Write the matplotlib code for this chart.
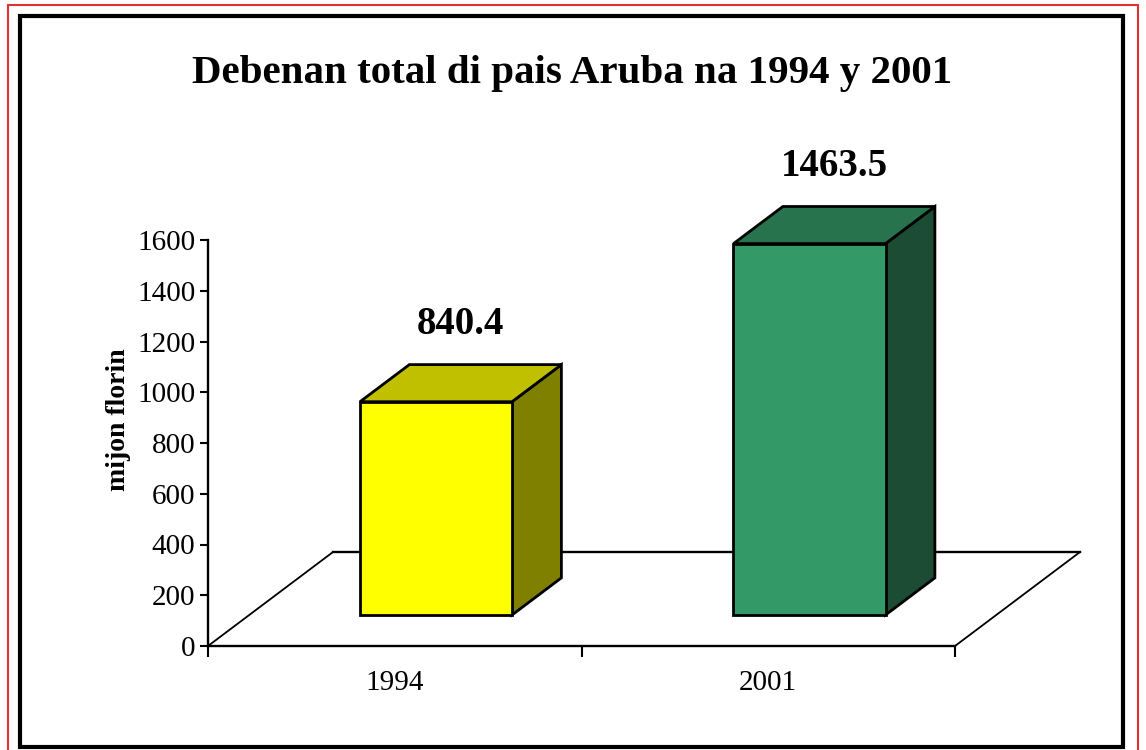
import numpy as np
import matplotlib
matplotlib.use('Agg')
import matplotlib.pyplot as plt
from matplotlib.patches import Polygon, Rectangle

plt.rcParams['font.family'] = ['Liberation Serif', 'DejaVu Serif']

# data
categories = ['1994', '2001']
values = [840.4, 1463.5]
value_labels = ['840.4', '1463.5']
yticks = [0, 200, 400, 600, 800, 1000, 1200, 1400, 1600]
title = 'Debenan total di pais Aruba na 1994 y 2001'
ylabel = 'mijon florin'

front_colors = ['#FFFF00', '#339966']
top_colors = ['#C0C000', '#26734D']
side_colors = ['#808000', '#1C4C34']

# fake 3d projection (in axis units)
DX, DY = 0.3347, 370.4
f0, f1 = 0.33, 0.725
bw = 0.407

fig = plt.figure(figsize=(11.46, 7.5), dpi=100)
ax = fig.add_axes([208/1146, 104/750, 747/1146, 406/750])
ax.set_xlim(0, 2)
ax.set_ylim(0, 1600)
ax.patch.set_visible(False)
for s in ['top', 'right']:
    ax.spines[s].set_visible(False)
for s in ['left', 'bottom']:
    ax.spines[s].set_linewidth(1.7)

ax.set_yticks(yticks)
ax.set_yticklabels([str(t) for t in yticks], fontsize=21)
ax.tick_params(axis='y', direction='out', length=6, width=1.5, pad=3)
ax.set_xticks([0, 1, 2])
ax.set_xticklabels([])
ax.tick_params(axis='x', which='major', direction='out', length=8, width=1.5)
ax.set_xticks([0.5, 1.5], minor=True)
ax.set_xticklabels(categories, minor=True, fontsize=21)
ax.tick_params(axis='x', which='minor', length=0, pad=17)

ax.set_ylabel(ylabel, fontsize=20, fontweight='bold')
ax.yaxis.set_label_coords(-0.103, 0.557)

# floor outline
ax.plot([DX, 2 + DX], [DY, DY], color='black', lw=1.7, clip_on=False, zorder=1)
ax.plot([0, DX], [0, DY], color='black', lw=1.3, clip_on=False, zorder=1)
ax.plot([2, 2 + DX], [0, DY], color='black', lw=1.3, clip_on=False, zorder=1)

d = f1 - f0
for i, v in enumerate(values):
    x0 = i + 0.5 - bw/2 + f0*DX
    x1 = x0 + bw
    y0 = f0*DY
    y1 = y0 + v
    kw = dict(edgecolor='black', lw=2, clip_on=False, zorder=3, joinstyle='miter')
    ax.add_patch(Polygon([(x1, y0), (x1 + d*DX, y0 + d*DY), (x1 + d*DX, y1 + d*DY), (x1, y1)],
                         facecolor=side_colors[i], **kw))
    ax.add_patch(Polygon([(x0, y1), (x1, y1), (x1 + d*DX, y1 + d*DY), (x0 + d*DX, y1 + d*DY)],
                         facecolor=top_colors[i], **kw))
    ax.add_patch(Polygon([(x0, y0), (x1, y0), (x1, y1), (x0, y1)],
                         facecolor=front_colors[i], **kw))
    ax.annotate(value_labels[i], xy=(x0 + bw/2 + d*DX/2, y1 + d*DY), xytext=(0, 29),
                textcoords='offset points', ha='center', va='center',
                fontsize=28, fontweight='bold', annotation_clip=False)

fig.text(572/1146, 1 - 74/750, title, ha='center', va='center', fontsize=29.5, fontweight='bold')

# frames
fig.patches.append(Rectangle((20/1146, 3/750), 1103/1146, 731/750, transform=fig.transFigure,
                             fill=False, edgecolor='black', lw=3))
fig.patches.append(Rectangle((8/1146, -0.01), 1130/1146, 1 - 5/750 + 0.01, transform=fig.transFigure,
                             fill=False, edgecolor='#E03030', lw=1.5))

fig.savefig('out.png', dpi=100)
